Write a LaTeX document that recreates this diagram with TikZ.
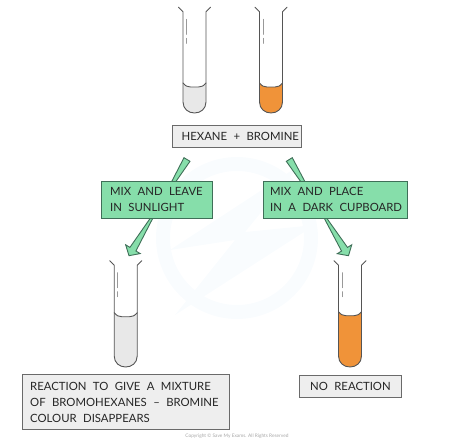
\documentclass[tikz,border=0pt]{standalone}
\usepackage{fontspec}
\setsansfont{Lato}
\newfontfamily\labfont[WordSpace=2.2]{Lato}
\usetikzlibrary{calc}
\definecolor{boxgrey}{HTML}{EEEEEE}
\definecolor{edgegrey}{HTML}{6A6A6A}
\definecolor{mint}{HTML}{86DEAA}
\definecolor{minted}{HTML}{3F6F58}
\definecolor{amber}{HTML}{F09339}
\definecolor{liquidgrey}{HTML}{E8E8E8}
\definecolor{glass}{HTML}{555555}
\definecolor{wm}{HTML}{F9FCFE}
\tikzset{
  label text/.style={font=\labfont\fontsize{11.35}{16}\selectfont, text=black!85, align=left, inner sep=0pt, anchor=base west},
  greybox/.style={draw=edgegrey, fill=boxgrey, line width=0.9pt, inner sep=0pt, rectangle},
  greenbox/.style={draw=minted, fill=mint, line width=0.9pt, inner sep=0pt, rectangle},
  tubeline/.style={draw=glass, line width=0.9pt, line join=round, line cap=round},
  shine/.style={draw=black!40, line width=0.9pt, line cap=round},
  fatarrow/.style={draw=minted, fill=mint, line width=0.9pt, line join=miter}
}
% \tube{centre x}{top y}{bottom y}{liquid top y}{liquid colour}
\newcommand{\tube}[5]{%
  \fill[#5] (#1-11.5,#4) .. controls (#1-9,#4+3) and (#1-7,#4+4) .. (#1-4,#4+4) -- (#1+4,#4+4)
     .. controls (#1+7,#4+4) and (#1+9,#4+3) .. (#1+11.5,#4)
     -- (#1+11.5,#3-11) .. controls (#1+11.5,#3-4) and (#1+6,#3) .. (#1,#3)
     .. controls (#1-6,#3) and (#1-11.5,#3-4) .. (#1-11.5,#3-11) -- cycle;
  \draw[tubeline] (#1-11.5,#4) .. controls (#1-9,#4+3) and (#1-7,#4+4) .. (#1-4,#4+4) -- (#1+4,#4+4)
     .. controls (#1+7,#4+4) and (#1+9,#4+3) .. (#1+11.5,#4);
  \draw[tubeline] (#1-16,#2) -- (#1-11.5,#2+4.5) -- (#1-11.5,#3-11)
     .. controls (#1-11.5,#3-4) and (#1-6,#3) .. (#1,#3)
     .. controls (#1+6,#3) and (#1+11.5,#3-4) .. (#1+11.5,#3-11)
     -- (#1+11.5,#2+4.5) -- (#1+16,#2);
  \draw[shine] (#1-8,#2+12) -- (#1-8,#2+27);
  \draw[shine] (#1-8,#2+31) -- (#1-8,#2+36);
}
% \fatarr{tail}{tip}
\newcommand{\fatarr}[2]{%
  \coordinate (hb) at ($(#2)!7.6pt!(#1)$);
  \draw[fatarrow] ($(#1)!3.5pt!90:(#2)$) -- ($(hb)!3.5pt!-90:(#2)$) -- ($(hb)!8.5pt!-90:(#2)$) -- (#2)
     -- ($(hb)!8.5pt!90:(#2)$) -- ($(hb)!3.5pt!90:(#2)$) -- ($(#1)!3.5pt!-90:(#2)$) -- cycle;
}
\begin{document}
\begin{tikzpicture}[x=1pt,y=-1pt]
\useasboundingbox (0,0) rectangle (474,442);
% faint watermark
\draw[wm, line width=14pt] (237,238) circle (74);
\fill[wm] (300,165) -- (170,250) -- (235,240) -- (175,315) -- (315,225) -- (245,232) -- cycle;
% tubes
\tube{194.5}{7.3}{113}{83}{liquidgrey}
\tube{271}{7.3}{113}{83}{amber}
\tube{125.7}{260.7}{367}{312.7}{liquidgrey}
\tube{350}{260.7}{367}{311.7}{amber}
% arrows
\coordinate (tailL) at (187,159.5);
\coordinate (tipL) at (129,255.7);
\coordinate (tailR) at (289.3,159.5);
\coordinate (tipR) at (348.5,255.7);
\fatarr{tailL}{tipL}
\fatarr{tailR}{tipR}
% boxes
\node[greybox, minimum width=128.6pt, minimum height=22pt] (mix) at (237,136) {};
\node[label text] (mixt) at (181.5,140.3) {HEXANE + BROMINE};
\node[greenbox, minimum width=110.3pt, minimum height=36.3pt] (sun) at (156.85,199.85) {};
\node[label text] (sunt) at (110,211.7) {MIX AND LEAVE\\IN SUNLIGHT};
\node[greenbox, minimum width=143.7pt, minimum height=36.3pt] (dark) at (335.15,199.85) {};
\node[label text] (darkt) at (270,211.7) {MIX AND PLACE\\IN A DARK CUPBOARD};
\node[greybox, minimum width=207pt, minimum height=54.7pt] (res) at (125.8,401.65) {};
\node[label text] (rest) at (30,422) {REACTION TO GIVE A MIXTURE\\OF BROMOHEXANES – BROMINE\\COLOUR DISAPPEARS};
\node[greybox, minimum width=102.7pt, minimum height=22pt] (none) at (350.35,386) {};
\node[label text] (nonet) at (310,390.7) {NO REACTION};
\node[font=\sffamily\fontsize{4.8}{6}\selectfont, text=black!35, inner sep=0pt] (copy) at (237,436) {Copyright © Save My Exams. All Rights Reserved};
\end{tikzpicture}
\end{document}
